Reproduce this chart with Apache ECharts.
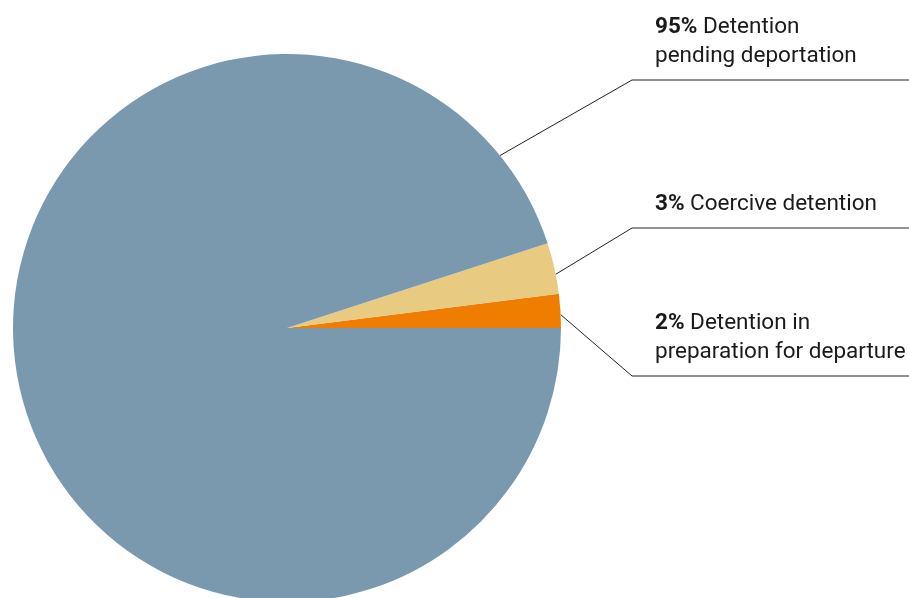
<!DOCTYPE html>
<html><head><meta charset="utf-8">
<script src="https://cdn.jsdelivr.net/npm/echarts@6/dist/echarts.min.js"></script>
<style>html,body{margin:0;padding:0;background:#fff}#c{width:909px;height:598px}</style>
</head><body><div id="c"></div>
<script>
// Data
const categories = ["Detention in preparation for departure", "Coercive detention", "Detention pending deportation"];
const labelLines = ["Detention in\npreparation for departure", "Coercive detention", "Detention\npending deportation"];
const values = [2, 3, 95];
const colors = ["#EF7D00", "#E8CB80", "#7A99AE"];

// label placement (layout only)
const cx = 287, cy = 328, R = 274;
const labelAnchorAngle = [2.8, 11.3, 39];   // degrees where leader lines leave the pie
const labelBottom = [367, 219, 71];         // text bottom y
const elbowY = [376, 228, 80];
const elbowX = 632, lineEndX = 909, textX = 655;

const chart = echarts.init(document.getElementById('c'));
chart.setOption({
  animation: false,
  series: [{
    type: 'pie',
    center: [cx, cy],
    radius: R,
    startAngle: 0,
    clockwise: false,
    avoidLabelOverlap: false,
    data: categories.map((c, i) => ({
      name: c, value: values[i],
      itemStyle: { color: colors[i] }
    })),
    itemStyle: { borderWidth: 0 },
    emphasis: { disabled: true },
    label: {
      show: true,
      position: 'outside',
      fontFamily: 'Roboto',
      fontSize: 22.5,
      lineHeight: 29,
      color: '#1a1a1a',
      formatter: p => '{b|' + p.value + '%} ' + labelLines[p.dataIndex],
      rich: {
        b: { fontWeight: 'bold', fontSize: 22.5, fontFamily: 'Roboto', color: '#1a1a1a', lineHeight: 29 }
      }
    },
    labelLine: { show: true, lineStyle: { color: '#222', width: 1 }, smooth: false },
    labelLayout: function (p) {
      const i = p.dataIndex;
      const a = labelAnchorAngle[i] * Math.PI / 180;
      const sx = cx + R * Math.cos(a), sy = cy - R * Math.sin(a);
      return {
        x: textX, y: labelBottom[i], align: 'left', verticalAlign: 'bottom',
        labelLinePoints: [[sx, sy], [elbowX, elbowY[i]], [lineEndX, elbowY[i]]]
      };
    }
  }]
});
</script></body></html>
